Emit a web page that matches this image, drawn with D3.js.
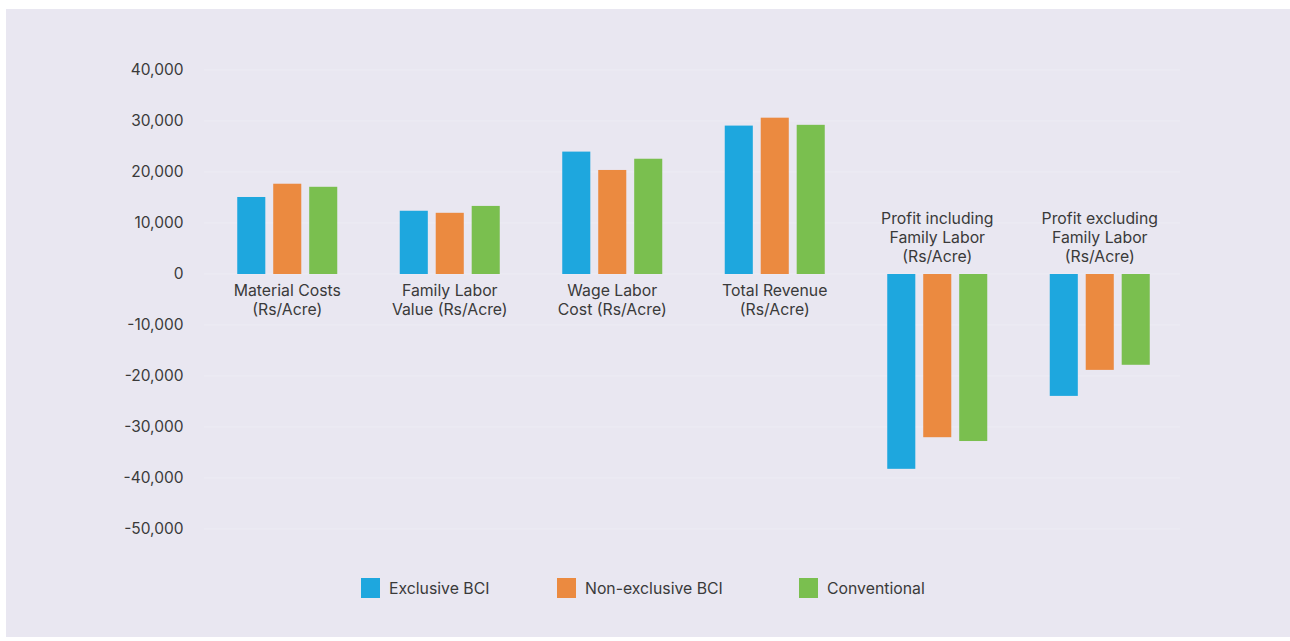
<!DOCTYPE html>
<html><head><meta charset="utf-8">
<script src="https://cdn.jsdelivr.net/npm/d3@7"></script>
<style>
html,body{margin:0;padding:0;background:#fff;}
svg{display:block;font-family:Inter,"Noto Sans",sans-serif;}
</style></head>
<body>
<svg id="chart" width="1290" height="641"></svg>
<script>
const categories = [
  ["Material Costs","(Rs/Acre)"],
  ["Family Labor","Value (Rs/Acre)"],
  ["Wage Labor","Cost (Rs/Acre)"],
  ["Total Revenue","(Rs/Acre)"],
  ["Profit including","Family Labor","(Rs/Acre)"],
  ["Profit excluding","Family Labor","(Rs/Acre)"]
];
const seriesNames = ["Exclusive BCI","Non-exclusive BCI","Conventional"];
const exclusiveBCI    = [15100, 12400, 24000, 29100, -38200, -23900];
const nonExclusiveBCI = [17700, 12000, 20400, 30650, -32000, -18800];
const conventional    = [17100, 13350, 22600, 29250, -32750, -17800];
const yTicks = [40000,30000,20000,10000,0,-10000,-20000,-30000,-40000,-50000];
const colors = ["#1ea7de","#eb8a40","#7abf4f"];

const series = [exclusiveBCI, nonExclusiveBCI, conventional];
const svg = d3.select("#chart");
svg.append("rect").attr("x",6).attr("y",9).attr("width",1284).attr("height",628).attr("fill","#e9e7f1");

const y = d3.scaleLinear().domain([-50000,40000]).range([529,70]);
const x0 = d3.scaleBand().domain(d3.range(categories.length)).range([206,1181]).padding(0);
const x1 = d3.scaleBand().domain(d3.range(3)).range([0,100]).paddingInner(0.22).paddingOuter(0);

// gridlines
svg.append("g").selectAll("line").data(yTicks).join("line")
  .attr("x1",204).attr("x2",1180)
  .attr("y1",d=>y(d)).attr("y2",d=>y(d))
  .attr("stroke","#edecf4").attr("stroke-width",1);

// y axis
const yAxis = d3.axisLeft(y).tickValues(yTicks).tickSize(0).tickPadding(0)
  .tickFormat(d=>d3.format(",")(d).replace("−","-"));
const ga = svg.append("g").attr("transform","translate(183.5,0)").call(yAxis);
ga.select(".domain").remove();
ga.selectAll("text").attr("font-size",15.5).attr("fill","#3a3a3a").attr("font-family","Inter,sans-serif");

// bars
const groups = svg.append("g").selectAll("g").data(categories.map((c,i)=>i)).join("g")
  .attr("transform",i=>`translate(${x0(i)+x0.bandwidth()/2-50},0)`);
groups.selectAll("rect").data(i=>series.map((s,k)=>({k,v:s[i]}))).join("rect")
  .attr("x",d=>x1(d.k)).attr("width",x1.bandwidth())
  .attr("y",d=>Math.min(y(d.v),y(0)))
  .attr("height",d=>Math.abs(y(d.v)-y(0)))
  .attr("fill",d=>colors[d.k]);

// category labels
groups.each(function(i){
  const g = d3.select(this);
  const neg = exclusiveBCI[i] < 0;
  const lines = categories[i];
  const t = g.append("text").attr("text-anchor","middle").attr("font-size",15.8)
    .attr("fill","#3a3a3a");
  lines.forEach((ln,j)=>{
    const by = neg ? y(0) - 12 - (lines.length-1-j)*19 : y(0) + 22 + j*19;
    t.append("tspan").attr("x",50).attr("y",by).text(ln);
  });
});

// legend
const legX = [361,557,799];
const leg = svg.append("g").selectAll("g").data(seriesNames).join("g")
  .attr("transform",(d,i)=>`translate(${legX[i]},578)`);
leg.append("rect").attr("width",19).attr("height",20).attr("fill",(d,i)=>colors[i]);
leg.append("text").attr("x",28).attr("y",15.5).attr("font-size",15.8).attr("fill","#3a3a3a").text(d=>d);
</script>
</body></html>
